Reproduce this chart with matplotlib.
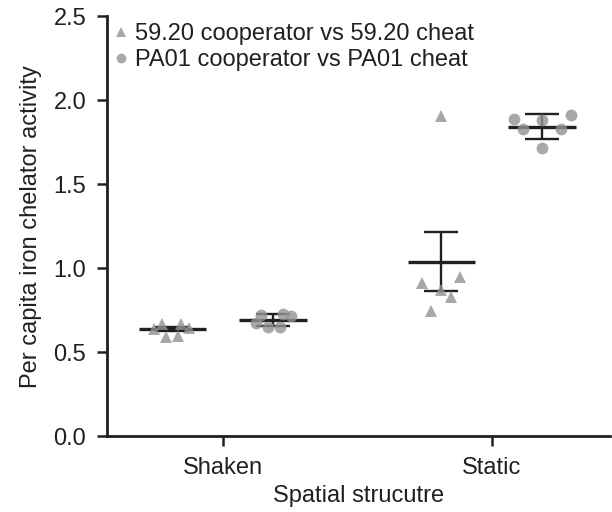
import matplotlib.pyplot as plt
import numpy as np
from matplotlib.lines import Line2D

plt.rcParams["font.family"] = ["Liberation Sans", "DejaVu Sans"]

CONDITIONS = ["Shaken", "Static"]
STRAINS = ["59.20 cooperator vs 59.20 cheat", "PA01 cooperator vs PA01 cheat"]

# per-replicate values, one list per condition
VALUES_5920 = [
    [0.638, 0.666, 0.593, 0.599, 0.666, 0.642],
    [1.905, 0.911, 0.951, 0.871, 0.828, 0.748],
]
VALUES_PA01 = [
    [0.722, 0.672, 0.649, 0.725, 0.652, 0.715],
    [1.890, 1.830, 1.885, 1.717, 1.830, 1.915],
]
# horizontal scatter of the replicates (data units around the group centre)
JITTER_5920 = [
    [-0.067, -0.038, -0.023, 0.020, 0.032, 0.061],
    [0.0, -0.074, 0.069, 0.0, 0.034, -0.039],
]
JITTER_PA01 = [
    [-0.044, -0.062, -0.019, 0.036, 0.024, 0.068],
    [-0.105, -0.071, 0.0, 0.0, 0.072, 0.106],
]
# mean and error
MEAN_5920 = [0.64, 1.038]
ERR_5920 = [0.012, 0.176]
MEAN_PA01 = [0.692, 1.844]
ERR_PA01 = [0.033, 0.072]

Y_TICKS = [0.0, 0.5, 1.0, 1.5, 2.0, 2.5]

INK = "#231f20"
GREY = "#919396"
OFFSET = 0.187
HALF_MEAN = 0.125
FS = 17

fig = plt.figure(figsize=(6.12, 5.12), dpi=100)
ax = fig.add_axes([0.175, 0.148, 0.822, 0.82])

groups = [
    (-OFFSET, VALUES_5920, JITTER_5920, MEAN_5920, ERR_5920, "^", 8.5),
    (OFFSET, VALUES_PA01, JITTER_PA01, MEAN_PA01, ERR_PA01, "o", 8.5),
]
for shift, values, jitter, means, errs, marker, ms in groups:
    for i in range(len(CONDITIONS)):
        cx = i + shift
        ax.hlines(means[i], cx - HALF_MEAN, cx + HALF_MEAN, color=INK,
                  linewidth=2.4, zorder=2)
        ax.errorbar(cx, means[i], yerr=errs[i], fmt="none", ecolor=INK,
                    elinewidth=1.7, capsize=12.5, capthick=1.7, zorder=2)
        xs = cx + np.array(jitter[i])
        ax.plot(xs, values[i], linestyle="none", marker=marker, markersize=ms,
                color=GREY, markeredgewidth=0, alpha=0.8, zorder=3)

ax.set_xlim(-0.43, 1.44)
ax.set_ylim(0, 2.5)
ax.set_xticks(range(len(CONDITIONS)))
ax.set_xticklabels(CONDITIONS)
ax.set_yticks(Y_TICKS)
ax.set_yticklabels([f"{t:.1f}" for t in Y_TICKS])
ax.tick_params(axis="both", direction="out", length=7, width=1.8,
               color=INK, labelcolor=INK, labelsize=FS, pad=8)
for side in ("top", "right"):
    ax.spines[side].set_visible(False)
for side in ("left", "bottom"):
    ax.spines[side].set_linewidth(2.0)
    ax.spines[side].set_color(INK)

ax.set_xlabel("Spatial strucutre", fontsize=FS, color=INK, labelpad=4)
ax.set_ylabel("Per capita iron chelator activity", fontsize=FS, color=INK,
              labelpad=8)

handles = [
    Line2D([], [], linestyle="none", marker="^", markersize=7, color="#a7a9ac",
           markeredgewidth=0, label=STRAINS[0]),
    Line2D([], [], linestyle="none", marker="o", markersize=7, color="#a7a9ac",
           markeredgewidth=0, label=STRAINS[1]),
]
leg = ax.legend(handles=handles, loc="upper left", frameon=False, fontsize=FS,
                handlelength=0.6, handletextpad=0.3, borderaxespad=0.1,
                borderpad=0.2, labelspacing=0.15, bbox_to_anchor=(0.0, 1.0))
for t in leg.get_texts():
    t.set_color(INK)

fig.savefig("out.png", dpi=100)
